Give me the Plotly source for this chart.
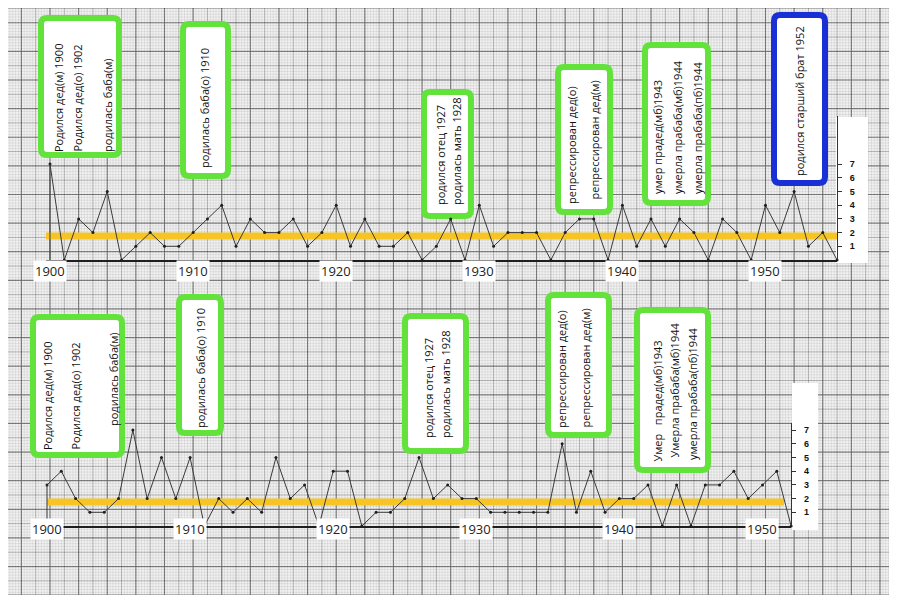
import plotly.graph_objects as go

W, H = 897, 595

# ---- data ----
decades = [1900, 1910, 1920, 1930, 1940, 1950]
y_ticks = [1, 2, 3, 4, 5, 6, 7]

years_top = list(range(1900, 1956))
events_top = [7, 0, 3, 2, 5, 0, 1, 2, 1, 1,
              2, 3, 4, 1, 3, 2, 2, 3, 1, 2,
              4, 1, 3, 1, 1, 2, 0, 1, 3, 0,
              4, 1, 2, 2, 2, 0, 2, 3, 3, 0,
              4, 1, 3, 1, 3, 2, 0, 3, 2, 0,
              4, 2, 5, 1, 2, 0]
level_top = 1.75
level_top_span = [1899.7, 1955.0]

years_bottom = list(range(1900, 1953))
events_bottom = [3, 4, 2, 1, 1, 2, 7, 2, 5, 2,
                 5, 0, 2, 1, 2, 1, 5, 2, 3, 0,
                 4, 4, 0, 1, 1, 2, 5, 2, 3, 2,
                 2, 1, 1, 1, 1, 1, 6, 1, 4, 1,
                 2, 2, 3, 0, 3, 0, 3, 3, 4, 2,
                 3, 4, 0]
level_bottom = 1.75
level_bottom_span = [1900.0, 1951.5]

notes_top = [
    ["Родился дед(м) 1900", "Родился дед(о) 1902", "родилась баба(м)"],
    ["родилась баба(о) 1910"],
    ["родился отец 1927", "родилась мать 1928"],
    ["репрессирован дед(о)", "репрессирован дед(м)"],
    ["умер прадед(мб)1943", "умерла прабаба(мб)1944", "умерла прабаба(пб)1944"],
    ["родился старший брат 1952"],
]
notes_bottom = [
    ["Родился дед(м) 1900", "Родился дед(о) 1902", "родилась баба(м)"],
    ["родилась баба(о) 1910"],
    ["родился отец 1927", "родилась мать 1928"],
    ["репрессирован дед(о)", "репрессирован дед(м)"],
    ["Умер\u00a0\u00a0\u00a0прадед(мб)1943", "Умерла прабаба(мб)1944", "умерла прабаба(пб)1944"],
]

# ---- layout in page pixels (top-left origin) ----
PAGE_MARGIN = 8  # body margin of the html page
YEAR_PX = 14.31
UNIT_PX = 13.7
GREEN = "#63e23b"
BLUE = "#1830d4"
YELLOW = "#f6c524"

# box outer edges, colour, text columns (x, bottom y)
boxes_top = [
    ((38, 15, 122, 158), GREEN, [(58, 154), (77, 154), (107, 154)]),
    ((180, 21, 231, 179), GREEN, [(205, 170)]),
    ((421, 89, 474, 219), GREEN, [(441, 207), (457, 207)]),
    ((555, 64, 613, 215), GREEN, [(572, 206), (594, 202)]),
    ((642, 42, 711, 206), GREEN, [(657, 196), (677, 196), (697, 196)]),
    ((771, 12, 828, 186), BLUE, [(799, 178)]),
]
boxes_bottom = [
    ((30, 314, 125, 458), GREEN, [(47, 452), (75, 452), (113, 428)]),
    ((176, 294, 224, 436), GREEN, [(200, 430)]),
    ((402, 313, 469, 454), GREEN, [(428, 440), (445, 440)]),
    ((545, 292, 612, 438), GREEN, [(561, 430), (585, 430)]),
    ((634, 307, 711, 473), GREEN, [(657, 464), (674, 460), (692, 462)]),
]


def px(x):
    return (x - PAGE_MARGIN) / W


def py(y):
    return 1 - (y - PAGE_MARGIN) / H


def rounded_rect(x0, y0, x1, y1, r=6):
    pts = [("M", x0 + r, y0), ("L", x1 - r, y0), ("Q", x1, y0, x1, y0 + r),
           ("L", x1, y1 - r), ("Q", x1, y1, x1 - r, y1), ("L", x0 + r, y1),
           ("Q", x0, y1, x0, y1 - r), ("L", x0, y0 + r), ("Q", x0, y0, x0 + r, y0)]
    out = []
    for p in pts:
        cmd, coords = p[0], p[1:]
        xy = [f"{px(coords[i]):.5f},{py(coords[i + 1]):.5f}" for i in range(0, len(coords), 2)]
        out.append(cmd + " ".join(xy))
    return "".join(out) + "Z"


def grid_path(step, x_phase, y_phase, top=8):
    parts = []
    x = x_phase % step
    while x <= W + PAGE_MARGIN:
        parts.append(f"M{px(x):.5f},{py(top):.5f}L{px(x):.5f},{py(H + PAGE_MARGIN):.5f}")
        x += step
    y = top + (y_phase - top) % step
    while y <= H + PAGE_MARGIN:
        parts.append(f"M{px(0):.5f},{py(y):.5f}L{px(W + PAGE_MARGIN):.5f},{py(y):.5f}")
        y += step
    return "".join(parts)


shapes = [dict(type="rect", xref="paper", yref="paper", x0=0, x1=1, y0=0, y1=1,
               fillcolor="#f1f1f1", line_width=0, layer="below")]
for step, col, wid in [(YEAR_PX / 5, "rgba(0,0,0,0.10)", 0.7),
                       (YEAR_PX, "rgba(0,0,0,0.20)", 1),
                       (YEAR_PX * 2, "rgba(0,0,0,0.32)", 1.2)]:
    shapes.append(dict(type="path", xref="paper", yref="paper", path=grid_path(step, 50, 80),
                       line=dict(color=col, width=wid), layer="below"))

# white strips behind the y tick labels
for x0, y0, x1, y1 in [(836, 117, 868, 263), (792, 383, 818, 530)]:
    shapes.append(dict(type="rect", xref="paper", yref="paper", x0=px(x0), x1=px(x1),
                       y0=py(y1), y1=py(y0), fillcolor="white", line_width=0, layer="below"))

annotations = []
for boxes, notes in [(boxes_top, notes_top), (boxes_bottom, notes_bottom)]:
    for (bx, color, cols), lines in zip(boxes, notes):
        x0, y0, x1, y1 = bx
        shapes.append(dict(type="path", xref="paper", yref="paper",
                           path=rounded_rect(x0 + 3, y0 + 3, x1 - 3, y1 - 3),
                           fillcolor="white", line=dict(color=color, width=6), layer="below"))
        for (cx, cy), txt in zip(cols, lines):
            annotations.append(dict(xref="paper", yref="paper", x=px(cx), y=py(cy), text=txt,
                                    textangle=-90, showarrow=False, xanchor="center",
                                    yanchor="bottom",
                                    font=dict(family="Open Sans", size=11, color="#111")))

fig = go.Figure()

for xa, ya, yrs, vals, lvl, span in [("x", "y", years_top, events_top, level_top, level_top_span),
                                     ("x2", "y2", years_bottom, events_bottom, level_bottom, level_bottom_span)]:
    fig.add_trace(go.Scatter(x=span, y=[lvl, lvl], mode="lines", xaxis=xa, yaxis=ya,
                             line=dict(color=YELLOW, width=7), hoverinfo="skip"))
    fig.add_trace(go.Scatter(x=yrs, y=vals, mode="lines+markers", xaxis=xa, yaxis=ya,
                             line=dict(color="#3a3a3a", width=1),
                             marker=dict(size=3, color="#1e1e1e"), cliponaxis=False))
    # left edge line at the first year
    shapes.append(dict(type="line", xref=xa, yref=ya, x0=yrs[0], x1=yrs[0], y0=0, y1=vals[0],
                       line=dict(color="#3a3a3a", width=1)))
    ref_y = 271 if xa == "x" else 540
    for d in decades:
        annotations.append(dict(xref=xa, yref="paper", x=d, y=py(ref_y), text=str(d),
                                showarrow=False, bgcolor="white", borderpad=1,
                                font=dict(family="Open Sans", size=13, color="#222")))

x_common = dict(showline=True, linecolor="#1e1e1e", linewidth=1.6, showticklabels=False,
                ticks="", showgrid=False, zeroline=False)
y_common = dict(side="right", anchor="free", showline=True, linecolor="#333", linewidth=1,
                ticks="outside", ticklen=4, tickcolor="#333", tickvals=y_ticks,
                ticklabelstandoff=6, showgrid=False, zeroline=False,
                tickfont=dict(family="Liberation Sans", size=9, color="#111", weight="bold"))

# top chart: 1900 at x=50px, baseline at y=260px
top_x0 = 50 - (1900 - level_top_span[0]) * YEAR_PX
top_x1 = 50 + (years_top[-1] - 1900) * YEAR_PX
# bottom chart: 1900 at x=47px, baseline at y=526px
bot_x0 = 47 - (1900 - 1899.9) * YEAR_PX
bot_x1 = 47 + (years_bottom[-1] - 1900) * YEAR_PX

fig.update_layout(
    width=W, height=H, margin=dict(l=0, r=0, t=0, b=0),
    paper_bgcolor="white", plot_bgcolor="rgba(0,0,0,0)", showlegend=False,
    xaxis=dict(domain=[px(top_x0), px(top_x1)], range=[level_top_span[0], years_top[-1]],
               anchor="y", **x_common),
    yaxis=dict(domain=[py(260), py(260 - 10.5 * UNIT_PX)], range=[0, 10.5],
               position=px(top_x1), **y_common),
    xaxis2=dict(domain=[px(bot_x0), px(bot_x1)], range=[1899.9, years_bottom[-1]],
                anchor="y2", **x_common),
    yaxis2=dict(domain=[py(526), py(526 - 7.5 * UNIT_PX)], range=[0, 7.5],
                position=px(bot_x1), **y_common),
    shapes=shapes, annotations=annotations,
)

fig.write_html("out.html")
